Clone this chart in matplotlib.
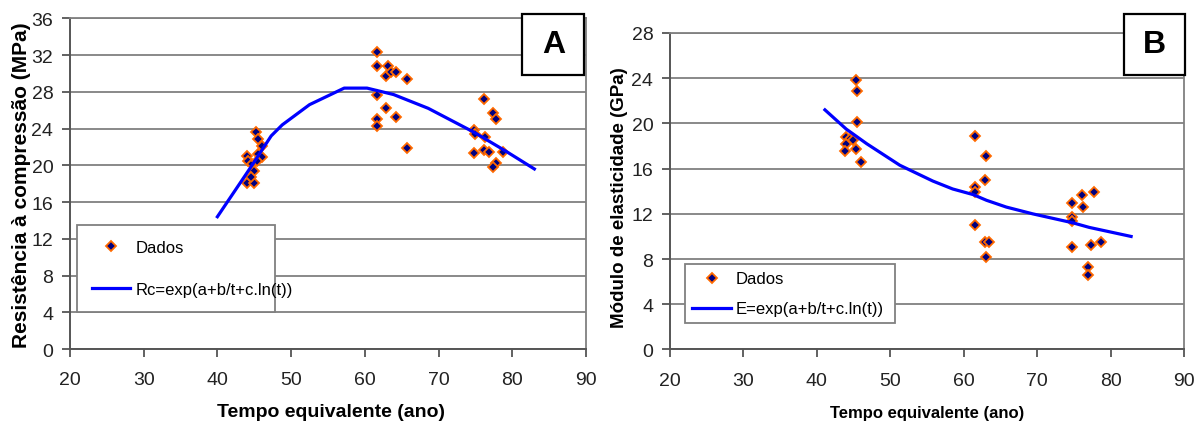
import matplotlib
matplotlib.use("Agg")
import matplotlib.pyplot as plt
from matplotlib.patches import Rectangle

# --- dados ---
# painel A: resistência à compressão (MPa)
a_t = [44.0, 44.2, 44.65, 44.9, 44.0, 44.9, 44.5,
       45.3, 45.5, 46.0, 45.5, 46.0, 45.4,
       61.6, 61.6, 63.1, 62.9, 63.6, 64.2, 65.7, 61.6, 62.9, 64.2, 61.6, 61.6, 65.7,
       76.2, 77.4, 77.8, 74.8, 74.9, 76.3, 74.8, 76.2, 76.9, 78.7, 77.8, 77.4]
a_rc = [21.0, 20.5, 20.1, 19.4, 18.1, 18.1, 18.7,
        23.6, 22.9, 22.1, 21.2, 20.9, 20.5,
        32.3, 30.8, 30.8, 29.7, 30.2, 30.2, 29.4, 27.6, 26.2, 25.3, 25.0, 24.3, 21.9,
        27.2, 25.7, 25.0, 23.8, 23.4, 23.1, 21.3, 21.7, 21.5, 21.5, 20.2, 19.8]
a_fit_t = [40.0, 44.2, 47.3, 48.8, 52.5, 57.2, 60.3, 63.9, 68.6, 74.8, 79.0, 83.0]
a_fit_rc = [14.4, 19.4, 23.2, 24.4, 26.6, 28.4, 28.4, 27.7, 26.2, 23.6, 21.6, 19.6]

# painel B: módulo de elasticidade (GPa)
b_t = [45.3, 45.5, 45.5, 44.0, 44.5, 44.9, 44.0, 43.9, 45.3, 46.0,
       61.5, 63.0, 62.9, 61.5, 61.5, 61.5, 62.9, 63.5, 63.0,
       74.8, 76.1, 77.7, 76.3, 74.8, 74.8, 74.8, 77.4, 78.7, 76.9, 76.9]
b_e = [23.8, 22.9, 20.1, 18.8, 18.6, 18.5, 18.2, 17.6, 17.7, 16.6,
       18.9, 17.1, 15.0, 14.4, 13.9, 11.0, 9.5, 9.5, 8.15,
       13.0, 13.7, 13.9, 12.6, 11.7, 11.4, 9.1, 9.2, 9.5, 7.3, 6.6]
b_fit_t = [41.1, 44.0, 46.8, 51.3, 55.8, 58.5, 61.3, 63.1, 65.8, 69.4, 74.9, 77.1, 82.8]
b_fit_e = [21.2, 19.5, 18.2, 16.3, 14.9, 14.2, 13.7, 13.2, 12.6, 12.0, 11.2, 10.8, 10.0]

x_ticks = list(range(20, 91, 10))
a_yticks = list(range(0, 37, 4))
b_yticks = list(range(0, 29, 4))

FONT = ['Liberation Sans', 'DejaVu Sans']
NAVY = '#000080'
ORANGE = '#FF6A00'
GRID = '#808080'
AXC = '#555555'

fig = plt.figure(figsize=(12.02, 4.27), dpi=100)
axA = fig.add_axes([0.0582, 0.1803, 0.4293, 0.7745])
axB = fig.add_axes([0.5574, 0.1792, 0.4276, 0.7412])


def style_axes(ax, yticks):
    ax.set_xlim(20, 90)
    ax.set_ylim(yticks[0], yticks[-1])
    ax.set_xticks(x_ticks)
    ax.set_yticks(yticks)
    ax.set_axisbelow(True)
    ax.yaxis.grid(True, color=GRID, lw=1.3)
    for side in ['left', 'bottom']:
        ax.spines[side].set_color(AXC)
        ax.spines[side].set_linewidth(1.4)
    for side in ['right', 'top']:
        ax.spines[side].set_color(GRID)
        ax.spines[side].set_linewidth(1.3)
    ax.tick_params(direction='out', length=6, width=1.3, color=AXC,
                   labelsize=14, labelcolor='#222222')
    ax.tick_params(axis='x', pad=10)
    ax.tick_params(axis='y', pad=6)
    for lab in ax.get_xticklabels() + ax.get_yticklabels():
        lab.set_family(FONT)


def panel_box(ax, x0, y0, w, h, letter):
    ax.add_patch(Rectangle((x0, y0), w, h, transform=ax.transAxes,
                           facecolor='white', edgecolor='black', lw=1.6,
                           clip_on=False, zorder=5))
    ax.text(x0 + w / 2, y0 + h / 2, letter, transform=ax.transAxes,
            ha='center', va='center', fontsize=23, fontweight='bold',
            family=FONT, zorder=6)


# ----- A -----
style_axes(axA, a_yticks)
axA.plot(a_t, a_rc, ls='none', marker='D', ms=5.5, mfc=NAVY, mec=ORANGE,
         mew=1.3, label='Dados', zorder=3)
axA.plot(a_fit_t, a_fit_rc, color='#0000FF', lw=2.3,
         label='Rc=exp(a+b/t+c.ln(t))', zorder=4)
axA.set_xlabel('Tempo equivalente (ano)', fontsize=14, fontweight='bold',
               family=FONT, va='center')
axA.xaxis.set_label_coords(0.506, -0.19)
axA.set_ylabel('Resistência à compressão (MPa)', fontsize=15, fontweight='bold',
               family=FONT, va='center')
axA.yaxis.set_label_coords(-0.094, 0.499)
legA = axA.legend(loc='upper left', bbox_to_anchor=(0.0136, 0.0, 0.384, 0.375),
                  mode='expand', borderaxespad=0, fancybox=False,
                  edgecolor=GRID, framealpha=1, prop={'family': FONT, 'size': 12},
                  handlelength=2.3, handletextpad=0.3, borderpad=0.9,
                  labelspacing=1.6)
legA.get_frame().set_linewidth(1.3)
panel_box(axA, 0.8766, 0.8286, 0.1202, 0.1845, 'A')

# ----- B -----
style_axes(axB, b_yticks)
axB.plot(b_t, b_e, ls='none', marker='D', ms=5.5, mfc=NAVY, mec=ORANGE,
         mew=1.3, label='Dados', zorder=3)
axB.plot(b_fit_t, b_fit_e, color='#0000FF', lw=2.3,
         label='E=exp(a+b/t+c.ln(t))', zorder=4)
axB.set_xlabel('Tempo equivalente (ano)', fontsize=12, fontweight='bold',
               family=FONT, va='center')
axB.xaxis.set_label_coords(0.501, -0.198)
axB.set_ylabel('Módulo de elasticidade (GPa)', fontsize=13.5, fontweight='bold',
               family=FONT, va='center')
axB.yaxis.set_label_coords(-0.099, 0.483)
legB = axB.legend(loc='upper left', bbox_to_anchor=(0.030, 0.0, 0.4076, 0.269),
                  mode='expand', borderaxespad=0, fancybox=False,
                  edgecolor=GRID, framealpha=1, prop={'family': FONT, 'size': 12},
                  handlelength=2.3, handletextpad=0.3, borderpad=0.42,
                  labelspacing=0.9)
legB.get_frame().set_linewidth(1.3)
panel_box(axB, 0.883, 0.8673, 0.1198, 0.1927, 'B')

fig.savefig('out.png', dpi=100, facecolor='white')
